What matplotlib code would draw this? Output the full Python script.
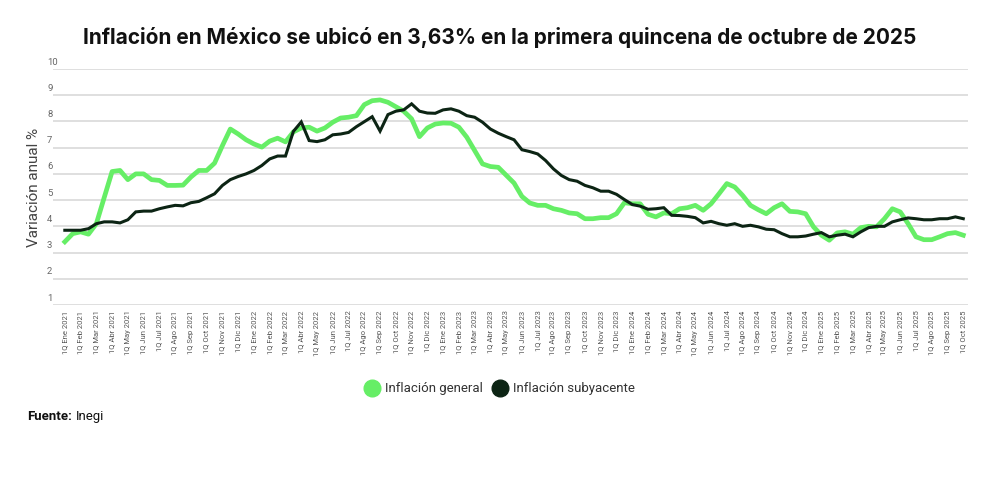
import matplotlib
matplotlib.use("Agg")
import matplotlib.pyplot as plt
from matplotlib.lines import Line2D
import matplotlib.transforms as mtransforms

plt.rcParams['font.family'] = ['Roboto', 'DejaVu Sans']

# ---- data (biweekly, 1Q Ene 2021 .. 1Q Oct 2025) ----
months = ["Ene", "Feb", "Mar", "Abr", "May", "Jun", "Jul", "Ago", "Sep", "Oct", "Nov", "Dic"]
years = [2021, 2022, 2023, 2024, 2025]
tick_labels = [f"1Q {m} {y}" for y in years for m in months][:58]

general = [3.41, 3.72, 3.79, 3.70, 4.10, 5.10, 6.09, 6.13, 5.78, 6.00,
           6.00, 5.78, 5.75, 5.56, 5.56, 5.57, 5.88, 6.13, 6.13, 6.41,
           7.08, 7.71, 7.52, 7.30, 7.14, 7.02, 7.25, 7.36, 7.22, 7.60,
           7.75, 7.78, 7.63, 7.75, 7.97, 8.13, 8.16, 8.22, 8.64, 8.79,
           8.82, 8.73, 8.56, 8.39, 8.10, 7.42, 7.75, 7.90, 7.94, 7.93,
           7.78, 7.40, 6.89, 6.38, 6.28, 6.25, 5.95, 5.65, 5.14, 4.89,
           4.80, 4.80, 4.67, 4.61, 4.51, 4.48, 4.29, 4.29, 4.33, 4.33,
           4.48, 4.90, 4.86, 4.86, 4.46, 4.36, 4.51, 4.48, 4.67, 4.71,
           4.80, 4.61, 4.86, 5.24, 5.63, 5.50, 5.18, 4.80, 4.63, 4.48,
           4.71, 4.86, 4.57, 4.55, 4.48, 3.98, 3.66, 3.47, 3.75, 3.79,
           3.70, 3.95, 4.00, 3.98, 4.29, 4.67, 4.55, 4.10, 3.60, 3.49,
           3.49, 3.60, 3.72, 3.76, 3.66]

subyacente = [3.85, 3.85, 3.85, 3.91, 4.10, 4.17, 4.17, 4.13, 4.25, 4.55,
              4.58, 4.58, 4.67, 4.74, 4.80, 4.78, 4.90, 4.95, 5.09, 5.24,
              5.56, 5.78, 5.90, 6.00, 6.13, 6.32, 6.57, 6.68, 6.68, 7.62,
              7.98, 7.27, 7.23, 7.30, 7.49, 7.52, 7.58, 7.80, 7.99, 8.18,
              7.63, 8.26, 8.39, 8.44, 8.67, 8.39, 8.32, 8.31, 8.44, 8.48,
              8.39, 8.22, 8.16, 7.97, 7.71, 7.55, 7.42, 7.30, 6.92, 6.85,
              6.76, 6.51, 6.19, 5.94, 5.78, 5.72, 5.56, 5.47, 5.34, 5.34,
              5.22, 5.02, 4.83, 4.77, 4.65, 4.67, 4.71, 4.42, 4.41, 4.38,
              4.33, 4.13, 4.19, 4.10, 4.04, 4.10, 4.00, 4.04, 3.98, 3.89,
              3.87, 3.72, 3.60, 3.60, 3.63, 3.70, 3.76, 3.60, 3.66, 3.70,
              3.60, 3.79, 3.95, 4.00, 4.00, 4.17, 4.25, 4.32, 4.29, 4.25,
              4.25, 4.29, 4.29, 4.36, 4.29]

y_ticks = [1, 2, 3, 4, 5, 6, 7, 8, 9, 10]

GREEN = "#66ee66"
DARK = "#0c2414"

fig = plt.figure(figsize=(10, 4.8), dpi=100)
ax = fig.add_axes([0.053, 0.3646, 0.915, 0.4917])

x = list(range(len(general)))
ax.plot(x, general, color=GREEN, lw=3.4, solid_joinstyle='round', zorder=3)
ax.plot(x, subyacente, color=DARK, lw=2.2, solid_joinstyle='miter', zorder=4)

ax.set_ylim(1, 10)
ax.set_xlim(-1.5, 114.6)
ax.set_yticks(y_ticks)
ax.set_yticklabels([])
ax.tick_params(axis='y', length=0)
ax.grid(axis='y', color='#d9d9d9', lw=1.2, zorder=0)
for s in ax.spines.values():
    s.set_visible(False)

# y labels sitting just above each gridline at the left
trans = mtransforms.blended_transform_factory(fig.transFigure, ax.transData)
off = mtransforms.ScaledTranslation(0, 5 / 72, fig.dpi_scale_trans)
for v in y_ticks:
    ax.text(0.047, v, str(v), transform=trans + off, fontsize=6.8, color='#666666',
            ha='left', va='center')

ax.set_xticks(x[::2])
ax.set_xticklabels(tick_labels, rotation=90, fontsize=5.5, color='#555555')
ax.tick_params(axis='x', length=0, pad=4)

ax.set_ylabel("Variación anual %", fontsize=11, color='#444444')
ax.yaxis.set_label_coords(-0.013, 0.5)

fig.text(0.5, 0.922, "Inflación en México se ubicó en 3,63% en la primera quincena de octubre de 2025",
         ha='center', va='center', fontsize=15, fontweight='bold', color='#111111',
         family=['Inter', 'DejaVu Sans'])

handles = [Line2D([], [], marker='o', ls='none', markersize=12, color=GREEN, label="Inflación general"),
           Line2D([], [], marker='o', ls='none', markersize=12, color=DARK, label="Inflación subyacente")]
fig.legend(handles=handles, loc='center', bbox_to_anchor=(0.5, 0.19), ncol=2, frameon=False,
           fontsize=9.5, handletextpad=0.5, columnspacing=0.8, handlelength=1.0,
           labelcolor='#333333')

fig.text(0.027, 0.133, "Fuente:", fontsize=9.5, fontweight='bold', ha='left', va='center', color='#111111')
fig.text(0.076, 0.133, "Inegi", fontsize=9.5, ha='left', va='center', color='#111111')

fig.savefig("out.png", dpi=100, facecolor='white')
